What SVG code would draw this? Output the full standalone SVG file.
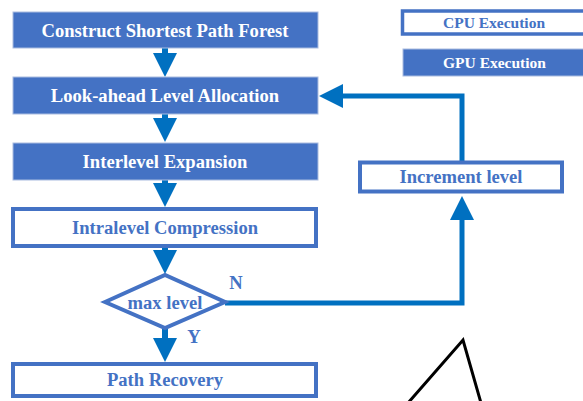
<svg xmlns="http://www.w3.org/2000/svg" width="583" height="401" viewBox="0 0 583 401">
<style>
.fill{fill:#4472C4;stroke:#A9BCE0;stroke-width:1}
.open{fill:#FFFFFF;stroke:#4472C4;stroke-width:4}
.t{font-family:"Liberation Serif","Times New Roman",serif;font-weight:bold;font-size:18.6px;text-anchor:middle}
.w{fill:#FFFFFF}
.b{fill:#4472C4}
.lg{font-size:15.5px}
.c{fill:none;stroke:#0070C0;stroke-width:6}
.c2{fill:none;stroke:#0070C0;stroke-width:5}
</style>
<defs>
<marker id="ah" viewBox="0 0 24 24" markerWidth="24" markerHeight="24" refX="0" refY="12" orient="auto" markerUnits="userSpaceOnUse">
<path d="M0,0 L24,12 L0,24 Z" fill="#0070C0"/>
</marker>
</defs>
<g id="connectors">
<line class="c" x1="165" y1="48" x2="165" y2="53" marker-end="url(#ah)"/>
<line class="c" x1="165" y1="114" x2="165" y2="118" marker-end="url(#ah)"/>
<line class="c" x1="165" y1="180" x2="165" y2="183" marker-end="url(#ah)"/>
<line class="c" x1="165" y1="247" x2="165" y2="250" marker-end="url(#ah)"/>
<line class="c" x1="165" y1="328" x2="165" y2="338" marker-end="url(#ah)"/>
<polyline class="c2" points="225,303 462,303 462,220" marker-end="url(#ah)"/>
<polyline class="c2" points="462,162 462,96 343,96" marker-end="url(#ah)"/>
</g>
<g id="node-construct">
<rect class="fill" x="13" y="12" width="305" height="36"/>
<text class="t w" x="165" y="36.5">Construct Shortest Path Forest</text>
</g>
<g id="node-lookahead">
<rect class="fill" x="13" y="77" width="305" height="37"/>
<text class="t w" x="165" y="102">Look-ahead Level Allocation</text>
</g>
<g id="node-interlevel">
<rect class="fill" x="13" y="143" width="305" height="37"/>
<text class="t w" x="165" y="168">Interlevel Expansion</text>
</g>
<g id="node-intralevel">
<rect class="open" x="13" y="209" width="303" height="37"/>
<text class="t b" x="165" y="234">Intralevel Compression</text>
</g>
<g id="node-maxlevel">
<polygon class="open" points="105,302 165,275 225,302 165,328"/>
<text class="t b" x="165" y="309">max level</text>
</g>
<g id="node-path-recovery">
<rect class="open" x="13" y="364" width="303" height="32"/>
<text class="t b" x="165" y="386">Path Recovery</text>
</g>
<g id="node-increment">
<rect class="open" x="360" y="162.5" width="202" height="29"/>
<text class="t b" x="461" y="183">Increment level</text>
</g>
<g id="labels">
<text class="t b" x="236" y="289">N</text>
<text class="t b" x="194" y="343">Y</text>
</g>
<g id="legend-cpu">
<rect class="open" x="402.5" y="11" width="185" height="23" style="stroke-width:3.5"/>
<text class="t b lg" x="494" y="28">CPU Execution</text>
</g>
<g id="legend-gpu">
<rect class="fill" x="403" y="49" width="185" height="27"/>
<text class="t w lg" x="494.5" y="67.5">GPU Execution</text>
</g>
<polyline points="408,403 463,340 481,403" fill="none" stroke="#000000" stroke-width="3" stroke-linejoin="miter"/>
</svg>
